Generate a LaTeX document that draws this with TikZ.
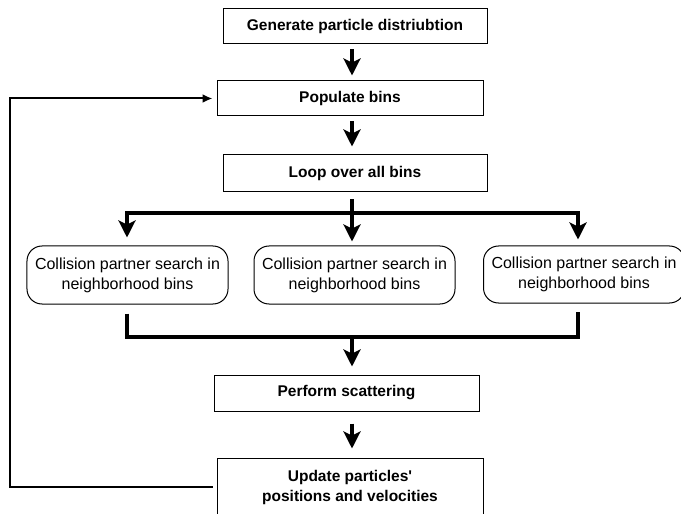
\documentclass[tikz,border=0pt]{standalone}
\usepackage{fontspec}
\newfontfamily\lsans{Liberation Sans}
\usetikzlibrary{arrows.meta}
\begin{document}
\begin{tikzpicture}[x=1bp,y=-1bp,
  rectbox/.style={draw, line width=1bp, inner sep=0pt, align=center,
    font=\lsans\fontsize{15.5bp}{20bp}\selectfont\bfseries},
  roundbox/.style={draw, line width=1bp, rounded corners=15bp, inner sep=0pt, align=center,
    minimum width=201bp, font=\lsans\fontsize{16bp}{20bp}\selectfont},
  bigline/.style={line width=3.5bp},
  big/.style={line width=3.5bp, -{Stealth[length=17bp,width=17bp,inset=4bp]}},
  fb/.style={line width=2bp, -{Latex[length=10bp,width=9bp]}}]
\useasboundingbox (0,0) rectangle (681,514);
\coordinate (col) at (352,0);
\node[rectbox, minimum width=264bp, minimum height=35bp] (g) at (355,26.5) {Generate particle distriubtion};
\node[rectbox, minimum width=266bp, minimum height=35bp] (p) at (350,98.5) {Populate bins};
\node[rectbox, minimum width=264bp, minimum height=37bp] (l) at (355,173.5) {Loop over all bins};
\node[roundbox, minimum height=58bp] (c1) at (127.5,275) {Collision partner search in\\neighborhood bins};
\node[roundbox, minimum height=58bp] (c2) at (354.5,275) {Collision partner search in\\neighborhood bins};
\node[roundbox, minimum height=57bp] (c3) at (584,274.5) {Collision partner search in\\neighborhood bins};
\node[rectbox, minimum width=265bp, minimum height=36bp] (s) at (346.5,393) {Perform scattering};
\node[rectbox, minimum width=266bp, minimum height=58bp] (u) at (350,487) {Update particles'\\positions and velocities};
\coordinate (br) at (352,213);
\coordinate (mg) at (352,337);
% straight arrows
\draw[big, shorten <=5bp, shorten >=5bp] (g.south -| col) -- (p.north -| col);
\draw[big, shorten <=5bp, shorten >=8bp] (p.south -| col) -- (l.north -| col);
% branch
\draw[big, shorten <=7bp, shorten >=4bp] (l.south -| col) -- (c2.north -| col);
\draw[big, shorten >=8bp] (br) -| ([xshift=-0.5bp]c1.north);
\draw[big, shorten >=6bp] (br) -| ([xshift=-6bp]c3.north);
% merge
\draw[bigline] ([yshift=-9bp,xshift=-0.5bp]c1.south) |- (mg) -| ([xshift=-6bp,yshift=-8bp]c3.south);
\draw[big, shorten >=8bp] (mg) -- (s.north -| mg);
\draw[big, shorten <=12bp, shorten >=9bp] (s.south -| col) -- (u.north -| col);
% feedback
\draw[fb, shorten <=4bp, shorten >=4bp] (u.west) -- ++(-206,0) |- (p.west);
\end{tikzpicture}
\end{document}
